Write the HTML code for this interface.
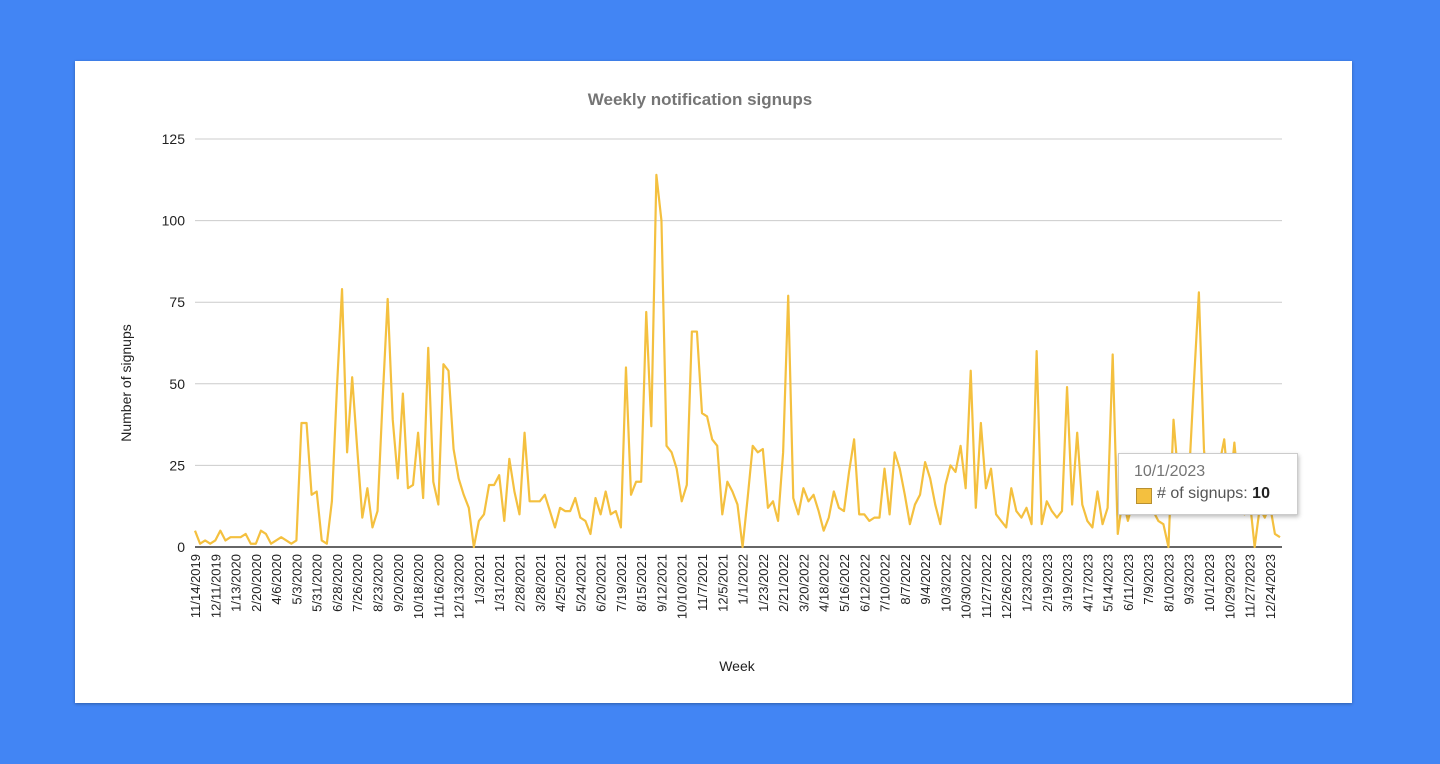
<!DOCTYPE html>
<html><head><meta charset="utf-8"><style>
html,body{margin:0;padding:0;width:1440px;height:764px;overflow:hidden;background:#4285f4;font-family:"Liberation Sans",Arial,sans-serif}
#card{position:absolute;left:75px;top:61px;width:1277px;height:642px;background:#fff;box-shadow:0 1px 3px rgba(0,0,0,.3)}
#tip{position:absolute;left:1118px;top:453px;width:178px;height:60px;background:#fff;border:1px solid #ccc;box-shadow:1px 2px 4px rgba(0,0,0,.25);font-size:16px}
</style></head><body>
<div id="card"></div>
<svg id="chart" width="1440" height="764" style="position:absolute;left:0;top:0"></svg>
<div id="tip">
<div style="position:absolute;left:15px;top:9px;color:#757575">10/1/2023</div>
<div style="position:absolute;left:17px;top:34px;width:14px;height:14px;background:#f4c03f;border:1px solid #b89030"></div>
<div style="position:absolute;left:38px;top:31px;color:#555"># of signups: <b style="color:#222">10</b></div>
</div>
<script>
const values=[5,1,2,1,2,5,2,3,3,3,4,1,1,5,4,1,2,3,2,1,2,38,38,16,17,2,1,14,49,79,29,52,30,9,18,6,11,45,76,
39,21,47,18,19,35,15,61,20,13,56,54,30,21,16,12,0,8,10,19,19,22,8,27,17,10,35,14,14,14,16,11,6,12,
11,11,15,9,8,4,15,10,17,10,11,6,55,16,20,20,72,37,114,100,31,29,24,14,19,66,66,41,40,33,31,10,20,17,13,0,
15,31,29,30,12,14,8,29,77,15,10,18,14,16,11,5,9,17,12,11,23,33,10,10,8,9,9,24,10,29,24,16,7,13,16,
26,21,13,7,19,25,23,31,18,54,12,38,18,24,10,8,6,18,11,9,12,7,60,7,14,11,9,11,49,13,35,13,8,6,17,
7,12,59,4,15,8,14,12,15,12,11,8,7,0,39,20,15,20,50,78,30,12,18,25,33,15,32,15,10,15,0,12,9,13,4,3];
const tickLabels=["11/14/2019","12/11/2019","1/13/2020","2/20/2020","4/6/2020","5/3/2020","5/31/2020","6/28/2020","7/26/2020","8/23/2020","9/20/2020","10/18/2020","11/16/2020","12/13/2020","1/3/2021","1/31/2021","2/28/2021","3/28/2021","4/25/2021","5/24/2021","6/20/2021","7/19/2021","8/15/2021","9/12/2021","10/10/2021","11/7/2021","12/5/2021","1/1/2022","1/23/2022","2/21/2022","3/20/2022","4/18/2022","5/16/2022","6/12/2022","7/10/2022","8/7/2022","9/4/2022","10/3/2022","10/30/2022","11/27/2022","12/26/2022","1/23/2023","2/19/2023","3/19/2023","4/17/2023","5/14/2023","6/11/2023","7/9/2023","8/10/2023","9/3/2023","10/1/2023","10/29/2023","11/27/2023","12/24/2023"];
const yTicks=[0,25,50,75,100,125];
const NS="http://www.w3.org/2000/svg";
const svg=document.getElementById('chart');
const X=i=>195+i*(1280-195)/214;
const Y=v=>547-v*(547-139)/125;
function el(t,a,txt){const e=document.createElementNS(NS,t);for(const k in a)e.setAttribute(k,a[k]);if(txt!==undefined)e.textContent=txt;svg.appendChild(e);return e;}
let t=el('text',{x:700,y:105,'text-anchor':'middle','font-size':17,'font-weight':'bold',fill:'#757575'},'Weekly notification signups');


yTicks.forEach(v=>{
  const g=el('line',{x1:195,x2:1282,y1:Y(v),y2:Y(v),stroke:v===0?'#333':'#ccc','stroke-width':v===0?1.5:1});
  
  
  const l=el('text',{x:185,y:Y(v)+5,'text-anchor':'end','font-size':14,fill:'#222'},v);
  
  
});
t=el('text',{transform:'translate(131,383) rotate(-90)','text-anchor':'middle','font-size':14,fill:'#222'},'Number of signups');


t=el('text',{x:737,y:671,'text-anchor':'middle','font-size':14,fill:'#222'},'Week');


tickLabels.forEach((s,k)=>{
  const x=X(k*4)+5;
  const l=el('text',{transform:`translate(${x},554) rotate(-90)`,'text-anchor':'end','font-size':13,fill:'#222'},s);
  
  
});
const p=el('polyline',{points:values.map((v,i)=>X(i)+','+Y(v)).join(' '),fill:'none',stroke:'#f4c03f','stroke-width':2.2,'stroke-linejoin':'round'});


</script>
</body></html>
